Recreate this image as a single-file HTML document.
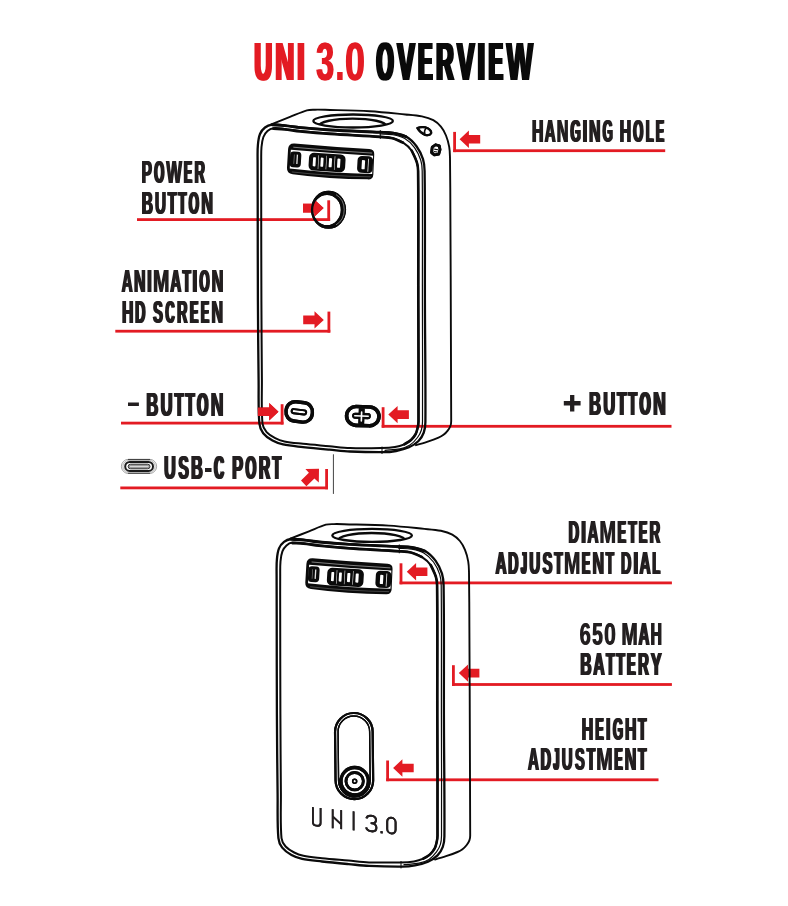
<!DOCTYPE html>
<html><head><meta charset="utf-8"><title>UNI 3.0 Overview</title>
<style>
html,body{margin:0;padding:0;background:#fff;}
body{width:788px;height:906px;overflow:hidden;}
svg{display:block;font-family:"Liberation Sans",sans-serif;font-weight:bold;will-change:transform;}
</style></head><body>
<svg width="788" height="906" viewBox="0 0 788 906">
<g fill="#e31b23"><text transform="matrix(0.4657 0 0 1 253.02 79.50)" font-size="52.91">U</text><text transform="matrix(0.4657 0 0 1 254.37 79.50)" font-size="52.91">U</text><text transform="matrix(0.4657 0 0 1 255.71 79.50)" font-size="52.91">U</text><text transform="matrix(0.4998 0 0 1 274.04 79.50)" font-size="52.91">N</text><text transform="matrix(0.4998 0 0 1 275.25 79.50)" font-size="52.91">N</text><text transform="matrix(0.4998 0 0 1 276.47 79.50)" font-size="52.91">N</text><text transform="matrix(0.4500 0 0 1 296.00 79.50)" font-size="52.91">I</text><text transform="matrix(0.4500 0 0 1 297.67 79.50)" font-size="52.91">I</text><text transform="matrix(0.4500 0 0 1 299.34 79.50)" font-size="52.91">I</text><text transform="matrix(0.6029 0 0 1 315.42 79.50)" font-size="52.91">3</text><text transform="matrix(0.6029 0 0 1 317.06 79.50)" font-size="52.91">3</text><text transform="matrix(0.7365 0 0 1 334.44 79.50)" font-size="52.91">.</text><text transform="matrix(0.6691 0 0 1 344.62 79.50)" font-size="52.91">0</text><text transform="matrix(0.6691 0 0 1 345.76 79.50)" font-size="52.91">0</text></g>
<g fill="#0a0a0a"><text transform="matrix(0.4109 0 0 1 375.11 79.50)" font-size="52.91">O</text><text transform="matrix(0.4109 0 0 1 376.73 79.50)" font-size="52.91">O</text><text transform="matrix(0.4109 0 0 1 378.34 79.50)" font-size="52.91">O</text><text transform="matrix(0.4925 0 0 1 396.05 79.50)" font-size="52.91">V</text><text transform="matrix(0.4925 0 0 1 397.36 79.50)" font-size="52.91">V</text><text transform="matrix(0.4925 0 0 1 398.66 79.50)" font-size="52.91">V</text><text transform="matrix(0.3838 0 0 1 416.72 79.50)" font-size="52.91">E</text><text transform="matrix(0.3838 0 0 1 417.86 79.50)" font-size="52.91">E</text><text transform="matrix(0.3838 0 0 1 419.01 79.50)" font-size="52.91">E</text><text transform="matrix(0.3838 0 0 1 420.16 79.50)" font-size="52.91">E</text><text transform="matrix(0.4571 0 0 1 434.85 79.50)" font-size="52.91">R</text><text transform="matrix(0.4571 0 0 1 436.29 79.50)" font-size="52.91">R</text><text transform="matrix(0.4571 0 0 1 437.74 79.50)" font-size="52.91">R</text><text transform="matrix(0.4925 0 0 1 455.87 79.50)" font-size="52.91">V</text><text transform="matrix(0.4925 0 0 1 457.18 79.50)" font-size="52.91">V</text><text transform="matrix(0.4925 0 0 1 458.49 79.50)" font-size="52.91">V</text><text transform="matrix(0.4500 0 0 1 476.31 79.50)" font-size="52.91">I</text><text transform="matrix(0.4500 0 0 1 478.04 79.50)" font-size="52.91">I</text><text transform="matrix(0.4500 0 0 1 479.78 79.50)" font-size="52.91">I</text><text transform="matrix(0.3838 0 0 1 487.33 79.50)" font-size="52.91">E</text><text transform="matrix(0.3838 0 0 1 488.48 79.50)" font-size="52.91">E</text><text transform="matrix(0.3838 0 0 1 489.62 79.50)" font-size="52.91">E</text><text transform="matrix(0.3838 0 0 1 490.77 79.50)" font-size="52.91">E</text><text transform="matrix(0.5265 0 0 1 505.38 79.50)" font-size="52.91">W</text><text transform="matrix(0.5265 0 0 1 506.56 79.50)" font-size="52.91">W</text><text transform="matrix(0.5265 0 0 1 507.74 79.50)" font-size="52.91">W</text></g>

<defs>
  <clipPath id="holeclip"><ellipse cx="353.1" cy="121" rx="39.8" ry="6.5"/></clipPath>
  
<g id="body" fill="none" stroke="#0a0a0a" stroke-linecap="round" stroke-linejoin="round">
  <path stroke-width="1.9" d="M271.3,124.3 C277.5,121.8 283.8,119.4 290.0,116.9 C295.6,114.7 301.1,112.0 306.9,110.3 C309.5,109.6 312.3,109.8 315.0,109.7 C318.4,109.6 321.7,109.7 325.1,109.8 C340.0,110.2 354.9,110.3 369.8,111.2 C381.7,111.9 393.5,113.3 405.4,114.5 C410.9,115.0 416.5,115.3 421.9,116.4 C425.8,117.2 429.8,118.3 433.3,120.2 C436.2,121.8 438.8,124.1 440.9,126.6 C443.1,129.2 444.7,132.3 446.0,135.5 C447.5,139.2 448.5,143.0 449.2,146.9 C449.9,150.7 449.9,154.5 450.0,158.3 C450.3,177.8 450.3,197.2 450.4,216.7 C450.7,284.8 451.2,352.9 451.2,421.0 C451.2,422.7 451.0,424.4 450.4,426.0 C449.8,427.7 448.8,429.2 447.7,430.6 C446.5,432.2 445.1,433.6 443.5,434.8 C442.0,436.0 440.3,436.9 438.5,437.6 C434.7,439.2 430.9,440.5 427.0,441.8 C423.4,443.0 419.7,444.1 416.0,445.2"/>
  <path stroke-width="2.3" d="M257.9,300.0 C257.7,266.7 257.8,233.3 257.7,200.0 C257.7,186.7 257.6,173.3 257.6,160.0 C257.6,155.0 257.4,150.0 257.9,145.0 C258.2,141.3 258.6,137.5 260.0,134.0 C261.0,131.5 262.8,129.2 265.0,127.5 C267.0,125.9 269.5,124.9 272.0,124.6 C276.2,124.2 280.3,125.0 284.5,125.4 C289.7,125.9 294.8,126.9 300.0,127.4 C310.0,128.4 320.0,129.2 330.0,129.8 C346.7,130.8 363.3,131.3 380.0,132.1 C384.3,132.3 388.7,132.2 392.9,132.9 C397.4,133.7 402.1,134.3 406.0,136.5 C410.2,138.8 413.6,142.4 416.5,146.2 C419.4,150.1 421.5,154.6 423.0,159.2 C424.2,163.0 424.5,167.0 424.6,171.0 C425.2,214.0 424.8,257.0 424.9,300.0 C425.0,340.7 425.7,381.3 425.4,422.0 C425.4,425.5 425.0,429.2 423.8,432.5 C422.7,435.6 420.9,438.6 418.5,441.0 C415.8,443.7 412.5,445.8 409.0,447.3 C404.9,449.1 400.4,450.2 396.0,451.0 C391.8,451.8 387.6,452.2 383.3,452.2 C372.2,452.3 361.1,452.0 350.0,451.5 C343.1,451.2 336.3,450.3 329.5,449.7 C320.7,448.9 311.8,448.1 303.0,447.1 C296.3,446.3 289.6,445.8 283.1,444.4 C279.4,443.6 275.8,442.3 272.5,440.5 C269.1,438.6 265.6,436.3 263.2,433.2 C261.1,430.5 259.7,427.1 259.4,423.7 C258.1,409.2 258.8,394.6 258.6,380.0 C258.3,353.3 258.0,326.7 257.9,300.0 Z"/>
  <path stroke-width="2" d="M261.4,300.0 C261.3,266.7 261.2,233.3 261.2,200.0 C261.2,186.7 261.1,173.3 261.2,160.0 C261.2,155.7 261.1,151.3 261.5,147.0 C261.8,143.6 262.2,140.2 263.4,137.0 C264.3,134.7 265.7,132.6 267.5,131.0 C269.1,129.6 271.2,128.5 273.4,128.2 C277.1,127.7 280.8,128.5 284.5,128.9 C289.7,129.4 294.8,130.5 300.0,131.0 C310.0,132.0 320.0,132.9 330.0,133.6 C346.7,134.8 363.3,135.5 380.0,136.7 C384.3,137.0 388.6,137.2 392.7,138.2 C396.2,139.1 399.8,140.4 402.8,142.4 C406.2,144.6 409.4,147.4 411.7,150.7 C414.1,154.1 415.5,158.1 416.8,162.1 C417.7,165.0 418.1,168.0 418.1,171.0 C418.6,214.0 418.2,257.0 418.3,300.0 C418.4,340.5 418.7,380.9 418.5,421.4 C418.5,423.6 418.1,425.8 417.6,428.0 C417.1,430.0 416.7,432.2 415.7,434.0 C414.5,436.2 412.9,438.3 411.0,440.0 C409.0,441.8 406.7,443.2 404.3,444.3 C401.3,445.6 398.2,446.5 395.0,447.0 C390.5,447.7 385.9,447.9 381.4,448.0 C370.9,448.2 360.5,448.4 350.0,448.0 C343.1,447.8 336.3,446.8 329.5,446.2 C320.7,445.4 311.8,444.7 303.0,443.8 C296.8,443.1 290.5,442.7 284.4,441.4 C281.2,440.7 278.1,439.6 275.2,438.1 C272.1,436.5 268.9,434.7 266.6,432.1 C264.5,429.8 262.8,426.8 262.5,423.7 C261.2,409.2 262.0,394.6 261.9,380.0 C261.7,353.3 261.5,326.7 261.4,300.0 Z"/>
  <path stroke-width="1.2" d="M380.0,134.0 C384.2,134.2 388.4,134.0 392.5,134.7 C396.7,135.5 401.1,136.3 404.8,138.5 C408.6,140.7 411.9,144.0 414.5,147.6 C417.2,151.3 419.3,155.6 420.7,160.0 C421.9,163.5 422.2,167.3 422.2,171.0 C422.7,214.0 422.3,257.0 422.4,300.0 C422.4,340.5 422.8,380.9 422.5,421.4 C422.5,424.3 422.3,427.2 421.4,430.0 C420.6,432.7 419.2,435.3 417.5,437.5 C415.4,440.3 413.0,443.1 410.0,445.0 C407.0,446.9 403.5,448.1 400.0,448.8 C395.1,449.8 390.0,449.8 385.0,450.3"/>
  <path stroke-width="2.6" d="M411.7,150.7 C413.4,154.5 415.5,158.1 416.8,162.1 C417.7,165.0 418.1,168.0 418.1,171.0 C418.6,214.0 418.2,257.0 418.3,300.0 C418.4,340.5 418.7,380.9 418.5,421.4 C418.5,423.6 418.1,425.8 417.6,428.0 C417.1,430.0 416.7,432.2 415.7,434.0 C414.5,436.2 412.9,438.3 411.0,440.0 C409.0,441.8 406.5,442.9 404.3,444.3"/>
  <path stroke-width="2.9" d="M272.0,124.9 C276.2,125.1 280.3,125.2 284.5,125.6 C289.7,126.1 294.8,127.1 300.0,127.6 C310.0,128.6 320.0,129.4 330.0,130.0 C346.7,131.0 363.3,131.5 380.0,132.3 C384.3,132.5 388.7,132.4 392.9,133.1 C397.4,133.9 401.6,135.5 406.0,136.7"/>
  <path stroke-width="2.7" d="M273.4,128.7 C277.1,128.9 280.8,128.9 284.5,129.3 C289.7,129.8 294.8,130.8 300.0,131.3 C310.0,132.3 320.0,133.2 330.0,133.9 C346.7,135.1 363.3,135.7 380.0,136.9 C384.2,137.2 388.6,137.3 392.7,138.3 C396.2,139.2 399.4,141.1 402.8,142.5"/>
  <path stroke-width="1" d="M380.3,130.5 L380.3,138.5 M382,447 L382,453.6"/>
  <ellipse cx="353.1" cy="121" rx="39.8" ry="6.5" stroke-width="2.3"/>
  <g clip-path="url(#holeclip)"><ellipse cx="352.6" cy="126" rx="33.5" ry="7.4" stroke-width="2.4"/></g>
</g>

  
<g id="dial" transform="rotate(3.4 330 162)">
  <path fill="#0a0a0a" d="M293.5,145.6 Q330,146.8 368.5,146.6 Q373.6,146.6 373.7,151.6 L374,171.8 Q374,177 368.7,177.1 Q330,179.2 293.5,176.4 Q287.4,176 287.4,170.2 L287.4,151.6 Q287.4,145.6 293.5,145.6 Z"/>
  <path d="M292.5,149.4 Q330,150.8 371.5,150.6" fill="none" stroke="#c8c8c8" stroke-width="0.6"/>
  <path d="M292.5,174.2 Q330,176.2 371.5,174.4" fill="none" stroke="#999" stroke-width="0.4"/>
  <path d="M290.2,152.2 Q330,153.2 372.6,153.2 L372.8,171.4 Q330,173 290.2,170.8 Z" fill="#fff"/>
  <!-- left partial -->
  <rect x="289.8" y="153.6" width="11.2" height="15.8" rx="3.6" fill="#0a0a0a"/>
  <rect x="296.4" y="156.6" width="1.3" height="9.4" fill="#e0e0e0"/>
  <rect x="293.6" y="156.6" width="0.7" height="9.4" fill="#777"/>
  <!-- centre group -->
  <rect x="308.8" y="153.8" width="36.6" height="17.8" rx="5" fill="#0a0a0a"/>
  <rect x="312.9" y="158.1" width="2.8" height="9.2" rx="0.7" fill="#fff"/>
  <rect x="320.6" y="158.1" width="2.8" height="9.2" rx="0.7" fill="#fff"/>
  <rect x="328.9" y="158.1" width="3" height="9.2" rx="0.7" fill="#fff"/>
  <rect x="337.3" y="158.1" width="3" height="9.2" rx="0.7" fill="#fff"/>
  <rect x="318.1" y="156" width="0.6" height="13.6" fill="#ddd"/>
  <rect x="326" y="156" width="0.6" height="13.6" fill="#ddd"/>
  <rect x="334.4" y="156" width="0.6" height="13.6" fill="#ddd"/>
  <!-- right partial -->
  <rect x="357.4" y="154" width="15.6" height="17" rx="4.4" fill="#0a0a0a"/>
  <rect x="361.8" y="158.1" width="3.2" height="9.2" rx="0.7" fill="#fff"/>
  <rect x="367.9" y="156.4" width="0.8" height="13" fill="#eee"/>
</g>

</defs>

<rect fill="#e31b23" x="453.2" y="131.9" width="2.8" height="20.2"/><rect fill="#e31b23" x="453.2" y="149.3" width="212.0" height="2.8"/>
<polygon fill="#e31b23" points="459.6,139.3 468.9,130.6 468.9,135.0 480.2,135.0 480.2,143.6 468.9,143.6 468.9,148.0"/>
<g fill="#231f20"><text transform="matrix(0.5028 0 0 1 531.14 142.00)" font-size="31.40">H</text><text transform="matrix(0.5028 0 0 1 531.89 142.00)" font-size="31.40">H</text><text transform="matrix(0.5028 0 0 1 532.63 142.00)" font-size="31.40">H</text><text transform="matrix(0.4756 0 0 1 543.90 142.00)" font-size="31.40">A</text><text transform="matrix(0.4756 0 0 1 544.70 142.00)" font-size="31.40">A</text><text transform="matrix(0.4756 0 0 1 545.51 142.00)" font-size="31.40">A</text><text transform="matrix(0.5073 0 0 1 556.14 142.00)" font-size="31.40">N</text><text transform="matrix(0.5073 0 0 1 556.87 142.00)" font-size="31.40">N</text><text transform="matrix(0.5073 0 0 1 557.60 142.00)" font-size="31.40">N</text><text transform="matrix(0.4147 0 0 1 569.60 142.00)" font-size="31.40">G</text><text transform="matrix(0.4147 0 0 1 570.54 142.00)" font-size="31.40">G</text><text transform="matrix(0.4147 0 0 1 571.48 142.00)" font-size="31.40">G</text><text transform="matrix(0.4500 0 0 1 581.96 142.00)" font-size="31.40">I</text><text transform="matrix(0.4500 0 0 1 582.98 142.00)" font-size="31.40">I</text><text transform="matrix(0.4500 0 0 1 584.00 142.00)" font-size="31.40">I</text><text transform="matrix(0.5073 0 0 1 588.21 142.00)" font-size="31.40">N</text><text transform="matrix(0.5073 0 0 1 588.94 142.00)" font-size="31.40">N</text><text transform="matrix(0.5073 0 0 1 589.67 142.00)" font-size="31.40">N</text><text transform="matrix(0.4147 0 0 1 601.67 142.00)" font-size="31.40">G</text><text transform="matrix(0.4147 0 0 1 602.61 142.00)" font-size="31.40">G</text><text transform="matrix(0.4147 0 0 1 603.55 142.00)" font-size="31.40">G</text><text transform="matrix(0.5028 0 0 1 618.92 142.00)" font-size="31.40">H</text><text transform="matrix(0.5028 0 0 1 619.66 142.00)" font-size="31.40">H</text><text transform="matrix(0.5028 0 0 1 620.40 142.00)" font-size="31.40">H</text><text transform="matrix(0.4089 0 0 1 632.32 142.00)" font-size="31.40">O</text><text transform="matrix(0.4089 0 0 1 633.27 142.00)" font-size="31.40">O</text><text transform="matrix(0.4089 0 0 1 634.23 142.00)" font-size="31.40">O</text><text transform="matrix(0.4039 0 0 1 644.92 142.00)" font-size="31.40">L</text><text transform="matrix(0.4039 0 0 1 645.89 142.00)" font-size="31.40">L</text><text transform="matrix(0.4039 0 0 1 646.86 142.00)" font-size="31.40">L</text><text transform="matrix(0.3819 0 0 1 654.94 142.00)" font-size="31.40">E</text><text transform="matrix(0.3819 0 0 1 655.62 142.00)" font-size="31.40">E</text><text transform="matrix(0.3819 0 0 1 656.29 142.00)" font-size="31.40">E</text><text transform="matrix(0.3819 0 0 1 656.97 142.00)" font-size="31.40">E</text></g>
<rect fill="#e31b23" x="327.3" y="200.3" width="2.8" height="20.7"/><rect fill="#e31b23" x="137.0" y="218.2" width="193.1" height="2.8"/>
<polygon fill="#e31b23" points="323.6,208.1 314.3,199.4 314.3,203.8 303.0,203.8 303.0,212.4 314.3,212.4 314.3,216.8"/>
<g fill="#231f20"><text transform="matrix(0.4854 0 0 1 140.98 182.80)" font-size="31.40">P</text><text transform="matrix(0.4854 0 0 1 141.76 182.80)" font-size="31.40">P</text><text transform="matrix(0.4854 0 0 1 142.54 182.80)" font-size="31.40">P</text><text transform="matrix(0.4086 0 0 1 153.25 182.80)" font-size="31.40">O</text><text transform="matrix(0.4086 0 0 1 154.21 182.80)" font-size="31.40">O</text><text transform="matrix(0.4086 0 0 1 155.16 182.80)" font-size="31.40">O</text><text transform="matrix(0.5235 0 0 1 165.70 182.80)" font-size="31.40">W</text><text transform="matrix(0.5235 0 0 1 166.39 182.80)" font-size="31.40">W</text><text transform="matrix(0.5235 0 0 1 167.09 182.80)" font-size="31.40">W</text><text transform="matrix(0.3817 0 0 1 183.09 182.80)" font-size="31.40">E</text><text transform="matrix(0.3817 0 0 1 183.76 182.80)" font-size="31.40">E</text><text transform="matrix(0.3817 0 0 1 184.44 182.80)" font-size="31.40">E</text><text transform="matrix(0.3817 0 0 1 185.12 182.80)" font-size="31.40">E</text><text transform="matrix(0.4545 0 0 1 193.79 182.80)" font-size="31.40">R</text><text transform="matrix(0.4545 0 0 1 194.64 182.80)" font-size="31.40">R</text><text transform="matrix(0.4545 0 0 1 195.49 182.80)" font-size="31.40">R</text></g>
<g fill="#231f20"><text transform="matrix(0.4847 0 0 1 140.98 213.80)" font-size="31.40">B</text><text transform="matrix(0.4847 0 0 1 141.81 213.80)" font-size="31.40">B</text><text transform="matrix(0.4847 0 0 1 142.65 213.80)" font-size="31.40">B</text><text transform="matrix(0.4849 0 0 1 154.19 213.80)" font-size="31.40">U</text><text transform="matrix(0.4849 0 0 1 155.02 213.80)" font-size="31.40">U</text><text transform="matrix(0.4849 0 0 1 155.85 213.80)" font-size="31.40">U</text><text transform="matrix(0.4257 0 0 1 167.10 213.80)" font-size="31.40">T</text><text transform="matrix(0.4257 0 0 1 168.07 213.80)" font-size="31.40">T</text><text transform="matrix(0.4257 0 0 1 169.04 213.80)" font-size="31.40">T</text><text transform="matrix(0.4257 0 0 1 177.23 213.80)" font-size="31.40">T</text><text transform="matrix(0.4257 0 0 1 178.20 213.80)" font-size="31.40">T</text><text transform="matrix(0.4257 0 0 1 179.16 213.80)" font-size="31.40">T</text><text transform="matrix(0.4194 0 0 1 187.79 213.80)" font-size="31.40">O</text><text transform="matrix(0.4194 0 0 1 188.77 213.80)" font-size="31.40">O</text><text transform="matrix(0.4194 0 0 1 189.75 213.80)" font-size="31.40">O</text><text transform="matrix(0.5204 0 0 1 200.50 213.80)" font-size="31.40">N</text><text transform="matrix(0.5204 0 0 1 201.25 213.80)" font-size="31.40">N</text><text transform="matrix(0.5204 0 0 1 202.00 213.80)" font-size="31.40">N</text></g>
<rect fill="#e31b23" x="327.5" y="311.6" width="2.8" height="21.0"/><rect fill="#e31b23" x="115.3" y="329.8" width="215.0" height="2.8"/>
<polygon fill="#e31b23" points="323.8,319.9 314.5,311.2 314.5,315.6 303.2,315.6 303.2,324.2 314.5,324.2 314.5,328.6"/>
<g fill="#231f20"><text transform="matrix(0.4778 0 0 1 120.93 291.70)" font-size="31.40">A</text><text transform="matrix(0.4778 0 0 1 121.73 291.70)" font-size="31.40">A</text><text transform="matrix(0.4778 0 0 1 122.54 291.70)" font-size="31.40">A</text><text transform="matrix(0.5098 0 0 1 133.22 291.70)" font-size="31.40">N</text><text transform="matrix(0.5098 0 0 1 133.96 291.70)" font-size="31.40">N</text><text transform="matrix(0.5098 0 0 1 134.69 291.70)" font-size="31.40">N</text><text transform="matrix(0.4500 0 0 1 146.53 291.70)" font-size="31.40">I</text><text transform="matrix(0.4500 0 0 1 147.56 291.70)" font-size="31.40">I</text><text transform="matrix(0.4500 0 0 1 148.59 291.70)" font-size="31.40">I</text><text transform="matrix(0.6278 0 0 1 152.56 291.70)" font-size="31.40">M</text><text transform="matrix(0.6278 0 0 1 153.50 291.70)" font-size="31.40">M</text><text transform="matrix(0.4778 0 0 1 169.53 291.70)" font-size="31.40">A</text><text transform="matrix(0.4778 0 0 1 170.34 291.70)" font-size="31.40">A</text><text transform="matrix(0.4778 0 0 1 171.15 291.70)" font-size="31.40">A</text><text transform="matrix(0.4170 0 0 1 181.76 291.70)" font-size="31.40">T</text><text transform="matrix(0.4170 0 0 1 182.71 291.70)" font-size="31.40">T</text><text transform="matrix(0.4170 0 0 1 183.65 291.70)" font-size="31.40">T</text><text transform="matrix(0.4500 0 0 1 191.87 291.70)" font-size="31.40">I</text><text transform="matrix(0.4500 0 0 1 192.91 291.70)" font-size="31.40">I</text><text transform="matrix(0.4500 0 0 1 193.94 291.70)" font-size="31.40">I</text><text transform="matrix(0.4108 0 0 1 198.50 291.70)" font-size="31.40">O</text><text transform="matrix(0.4108 0 0 1 199.46 291.70)" font-size="31.40">O</text><text transform="matrix(0.4108 0 0 1 200.42 291.70)" font-size="31.40">O</text><text transform="matrix(0.5098 0 0 1 210.95 291.70)" font-size="31.40">N</text><text transform="matrix(0.5098 0 0 1 211.69 291.70)" font-size="31.40">N</text><text transform="matrix(0.5098 0 0 1 212.42 291.70)" font-size="31.40">N</text></g>
<g fill="#231f20"><text transform="matrix(0.5048 0 0 1 121.14 322.60)" font-size="31.40">H</text><text transform="matrix(0.5048 0 0 1 121.89 322.60)" font-size="31.40">H</text><text transform="matrix(0.5048 0 0 1 122.63 322.60)" font-size="31.40">H</text><text transform="matrix(0.4557 0 0 1 134.35 322.60)" font-size="31.40">D</text><text transform="matrix(0.4557 0 0 1 135.21 322.60)" font-size="31.40">D</text><text transform="matrix(0.4557 0 0 1 136.06 322.60)" font-size="31.40">D</text><text transform="matrix(0.4632 0 0 1 152.32 322.60)" font-size="31.40">S</text><text transform="matrix(0.4632 0 0 1 153.16 322.60)" font-size="31.40">S</text><text transform="matrix(0.4632 0 0 1 154.00 322.60)" font-size="31.40">S</text><text transform="matrix(0.3995 0 0 1 164.53 322.60)" font-size="31.40">C</text><text transform="matrix(0.3995 0 0 1 165.51 322.60)" font-size="31.40">C</text><text transform="matrix(0.3995 0 0 1 166.50 322.60)" font-size="31.40">C</text><text transform="matrix(0.4565 0 0 1 176.37 322.60)" font-size="31.40">R</text><text transform="matrix(0.4565 0 0 1 177.22 322.60)" font-size="31.40">R</text><text transform="matrix(0.4565 0 0 1 178.07 322.60)" font-size="31.40">R</text><text transform="matrix(0.3834 0 0 1 189.12 322.60)" font-size="31.40">E</text><text transform="matrix(0.3834 0 0 1 189.80 322.60)" font-size="31.40">E</text><text transform="matrix(0.3834 0 0 1 190.48 322.60)" font-size="31.40">E</text><text transform="matrix(0.3834 0 0 1 191.16 322.60)" font-size="31.40">E</text><text transform="matrix(0.3834 0 0 1 200.02 322.60)" font-size="31.40">E</text><text transform="matrix(0.3834 0 0 1 200.70 322.60)" font-size="31.40">E</text><text transform="matrix(0.3834 0 0 1 201.38 322.60)" font-size="31.40">E</text><text transform="matrix(0.3834 0 0 1 202.06 322.60)" font-size="31.40">E</text><text transform="matrix(0.5093 0 0 1 210.66 322.60)" font-size="31.40">N</text><text transform="matrix(0.5093 0 0 1 211.39 322.60)" font-size="31.40">N</text><text transform="matrix(0.5093 0 0 1 212.13 322.60)" font-size="31.40">N</text></g>
<rect fill="#e31b23" x="280.7" y="404.2" width="2.8" height="20.3"/><rect fill="#e31b23" x="121.0" y="421.7" width="162.5" height="2.8"/>
<polygon fill="#e31b23" points="278.5,411.8 269.2,403.1 269.2,407.5 257.9,407.5 257.9,416.1 269.2,416.1 269.2,420.5"/>
<rect fill="#231f20" x="128" y="402.5" width="10.9" height="3.5"/>
<g fill="#231f20"><text transform="matrix(0.4964 0 0 1 145.40 415.60)" font-size="33.21">B</text><text transform="matrix(0.4964 0 0 1 146.30 415.60)" font-size="33.21">B</text><text transform="matrix(0.4964 0 0 1 147.20 415.60)" font-size="33.21">B</text><text transform="matrix(0.4967 0 0 1 159.70 415.60)" font-size="33.21">U</text><text transform="matrix(0.4967 0 0 1 160.60 415.60)" font-size="33.21">U</text><text transform="matrix(0.4967 0 0 1 161.51 415.60)" font-size="33.21">U</text><text transform="matrix(0.4360 0 0 1 173.70 415.60)" font-size="33.21">T</text><text transform="matrix(0.4360 0 0 1 174.75 415.60)" font-size="33.21">T</text><text transform="matrix(0.4360 0 0 1 175.79 415.60)" font-size="33.21">T</text><text transform="matrix(0.4360 0 0 1 184.67 415.60)" font-size="33.21">T</text><text transform="matrix(0.4360 0 0 1 185.72 415.60)" font-size="33.21">T</text><text transform="matrix(0.4360 0 0 1 186.76 415.60)" font-size="33.21">T</text><text transform="matrix(0.4295 0 0 1 196.11 415.60)" font-size="33.21">O</text><text transform="matrix(0.4295 0 0 1 197.17 415.60)" font-size="33.21">O</text><text transform="matrix(0.4295 0 0 1 198.23 415.60)" font-size="33.21">O</text><text transform="matrix(0.5330 0 0 1 209.88 415.60)" font-size="33.21">N</text><text transform="matrix(0.5330 0 0 1 210.69 415.60)" font-size="33.21">N</text><text transform="matrix(0.5330 0 0 1 211.51 415.60)" font-size="33.21">N</text></g>
<rect fill="#e31b23" x="381.7" y="407.2" width="2.8" height="20.5"/><rect fill="#e31b23" x="381.7" y="424.9" width="289.8" height="2.8"/>
<polygon fill="#e31b23" points="388.3,414.6 397.6,405.9 397.6,410.3 408.9,410.3 408.9,418.9 397.6,418.9 397.6,423.3"/>
<path fill="#231f20" d="M563.8,401.1 h6.25 v-6.2 h4.3 v6.2 h6.25 v4.3 h-6.25 v6.2 h-4.3 v-6.2 h-6.25 z"/>
<g fill="#231f20"><text transform="matrix(0.4932 0 0 1 588.20 415.20)" font-size="33.21">B</text><text transform="matrix(0.4932 0 0 1 589.10 415.20)" font-size="33.21">B</text><text transform="matrix(0.4932 0 0 1 590.00 415.20)" font-size="33.21">B</text><text transform="matrix(0.4934 0 0 1 602.42 415.20)" font-size="33.21">U</text><text transform="matrix(0.4934 0 0 1 603.31 415.20)" font-size="33.21">U</text><text transform="matrix(0.4934 0 0 1 604.21 415.20)" font-size="33.21">U</text><text transform="matrix(0.4332 0 0 1 616.32 415.20)" font-size="33.21">T</text><text transform="matrix(0.4332 0 0 1 617.36 415.20)" font-size="33.21">T</text><text transform="matrix(0.4332 0 0 1 618.40 415.20)" font-size="33.21">T</text><text transform="matrix(0.4332 0 0 1 627.22 415.20)" font-size="33.21">T</text><text transform="matrix(0.4332 0 0 1 628.26 415.20)" font-size="33.21">T</text><text transform="matrix(0.4332 0 0 1 629.30 415.20)" font-size="33.21">T</text><text transform="matrix(0.4267 0 0 1 638.58 415.20)" font-size="33.21">O</text><text transform="matrix(0.4267 0 0 1 639.64 415.20)" font-size="33.21">O</text><text transform="matrix(0.4267 0 0 1 640.69 415.20)" font-size="33.21">O</text><text transform="matrix(0.5295 0 0 1 652.27 415.20)" font-size="33.21">N</text><text transform="matrix(0.5295 0 0 1 653.08 415.20)" font-size="33.21">N</text><text transform="matrix(0.5295 0 0 1 653.88 415.20)" font-size="33.21">N</text></g>
<rect fill="#e31b23" x="325.2" y="469.0" width="2.8" height="20.3"/><rect fill="#e31b23" x="120.3" y="486.5" width="207.7" height="2.8"/>
<polygon fill="#e31b23" points="319,468.8 305.4,469 308.9,472.7 301,480.6 306.4,486.3 314.4,478.5 318.8,482.4"/>
<rect x="332.9" y="454.3" width="1.1" height="39.6" fill="#555"/>
<g fill="#231f20"><text transform="matrix(0.4832 0 0 1 163.23 478.80)" font-size="33.28">U</text><text transform="matrix(0.4832 0 0 1 164.11 478.80)" font-size="33.28">U</text><text transform="matrix(0.4832 0 0 1 164.99 478.80)" font-size="33.28">U</text><text transform="matrix(0.4716 0 0 1 177.45 478.80)" font-size="33.28">S</text><text transform="matrix(0.4716 0 0 1 178.36 478.80)" font-size="33.28">S</text><text transform="matrix(0.4716 0 0 1 179.26 478.80)" font-size="33.28">S</text><text transform="matrix(0.4830 0 0 1 190.32 478.80)" font-size="33.28">B</text><text transform="matrix(0.4830 0 0 1 191.20 478.80)" font-size="33.28">B</text><text transform="matrix(0.4830 0 0 1 192.08 478.80)" font-size="33.28">B</text><text transform="matrix(0.7760 0 0 1 204.02 478.80)" font-size="33.28">-</text><text transform="matrix(0.4068 0 0 1 213.10 478.80)" font-size="33.28">C</text><text transform="matrix(0.4068 0 0 1 214.17 478.80)" font-size="33.28">C</text><text transform="matrix(0.4068 0 0 1 215.23 478.80)" font-size="33.28">C</text><text transform="matrix(0.4965 0 0 1 231.23 478.80)" font-size="33.28">P</text><text transform="matrix(0.4965 0 0 1 232.07 478.80)" font-size="33.28">P</text><text transform="matrix(0.4965 0 0 1 232.92 478.80)" font-size="33.28">P</text><text transform="matrix(0.4179 0 0 1 244.53 478.80)" font-size="33.28">O</text><text transform="matrix(0.4179 0 0 1 245.57 478.80)" font-size="33.28">O</text><text transform="matrix(0.4179 0 0 1 246.60 478.80)" font-size="33.28">O</text><text transform="matrix(0.4648 0 0 1 258.08 478.80)" font-size="33.28">R</text><text transform="matrix(0.4648 0 0 1 259.00 478.80)" font-size="33.28">R</text><text transform="matrix(0.4648 0 0 1 259.93 478.80)" font-size="33.28">R</text><text transform="matrix(0.4242 0 0 1 271.49 478.80)" font-size="33.28">T</text><text transform="matrix(0.4242 0 0 1 272.51 478.80)" font-size="33.28">T</text><text transform="matrix(0.4242 0 0 1 273.53 478.80)" font-size="33.28">T</text></g>
<g fill="none"><rect x="121.4" y="459.3" width="35.2" height="14.2" rx="7.1" stroke="#777" stroke-width="0.7"/><path d="M128,459.5 H150 M128,473.3 H150" stroke="#444" stroke-width="1.1"/><rect x="122.9" y="460.5" width="32.2" height="11.8" rx="5.9" stroke="#888" stroke-width="0.6"/><rect x="125.2" y="461.9" width="27.8" height="9" rx="4.5" stroke="#1a1a1a" stroke-width="2"/><rect x="128.2" y="464.2" width="21.8" height="4.6" rx="2.3" fill="#9a9a9a" stroke="#333" stroke-width="1"/><path d="M130,466.5 H148.4" stroke="#e8e8e8" stroke-width="0.8"/></g>
<rect fill="#e31b23" x="399.6" y="563.3" width="2.8" height="21.0"/><rect fill="#e31b23" x="399.6" y="581.5" width="272.3" height="2.8"/>
<polygon fill="#e31b23" points="406.8,571.8 416.1,563.1 416.1,567.5 427.4,567.5 427.4,576.1 416.1,576.1 416.1,580.5"/>
<g fill="#231f20"><text transform="matrix(0.4637 0 0 1 567.73 542.60)" font-size="31.40">D</text><text transform="matrix(0.4637 0 0 1 568.60 542.60)" font-size="31.40">D</text><text transform="matrix(0.4637 0 0 1 569.47 542.60)" font-size="31.40">D</text><text transform="matrix(0.4500 0 0 1 580.57 542.60)" font-size="31.40">I</text><text transform="matrix(0.4500 0 0 1 581.64 542.60)" font-size="31.40">I</text><text transform="matrix(0.4500 0 0 1 582.70 542.60)" font-size="31.40">I</text><text transform="matrix(0.4858 0 0 1 586.64 542.60)" font-size="31.40">A</text><text transform="matrix(0.4858 0 0 1 587.46 542.60)" font-size="31.40">A</text><text transform="matrix(0.4858 0 0 1 588.28 542.60)" font-size="31.40">A</text><text transform="matrix(0.6383 0 0 1 598.88 542.60)" font-size="31.40">M</text><text transform="matrix(0.6383 0 0 1 599.84 542.60)" font-size="31.40">M</text><text transform="matrix(0.3901 0 0 1 616.71 542.60)" font-size="31.40">E</text><text transform="matrix(0.3901 0 0 1 617.40 542.60)" font-size="31.40">E</text><text transform="matrix(0.3901 0 0 1 618.10 542.60)" font-size="31.40">E</text><text transform="matrix(0.3901 0 0 1 618.79 542.60)" font-size="31.40">E</text><text transform="matrix(0.4239 0 0 1 627.47 542.60)" font-size="31.40">T</text><text transform="matrix(0.4239 0 0 1 628.43 542.60)" font-size="31.40">T</text><text transform="matrix(0.4239 0 0 1 629.39 542.60)" font-size="31.40">T</text><text transform="matrix(0.3901 0 0 1 637.89 542.60)" font-size="31.40">E</text><text transform="matrix(0.3901 0 0 1 638.58 542.60)" font-size="31.40">E</text><text transform="matrix(0.3901 0 0 1 639.27 542.60)" font-size="31.40">E</text><text transform="matrix(0.3901 0 0 1 639.97 542.60)" font-size="31.40">E</text><text transform="matrix(0.4645 0 0 1 648.83 542.60)" font-size="31.40">R</text><text transform="matrix(0.4645 0 0 1 649.70 542.60)" font-size="31.40">R</text><text transform="matrix(0.4645 0 0 1 650.57 542.60)" font-size="31.40">R</text></g>
<g fill="#231f20"><text transform="matrix(0.4804 0 0 1 494.82 573.80)" font-size="31.40">A</text><text transform="matrix(0.4804 0 0 1 495.64 573.80)" font-size="31.40">A</text><text transform="matrix(0.4804 0 0 1 496.45 573.80)" font-size="31.40">A</text><text transform="matrix(0.4586 0 0 1 507.30 573.80)" font-size="31.40">D</text><text transform="matrix(0.4586 0 0 1 508.16 573.80)" font-size="31.40">D</text><text transform="matrix(0.4586 0 0 1 509.02 573.80)" font-size="31.40">D</text><text transform="matrix(0.3000 0 0 1 520.02 573.80)" font-size="31.40">J</text><text transform="matrix(0.3000 0 0 1 520.64 573.80)" font-size="31.40">J</text><text transform="matrix(0.3000 0 0 1 521.26 573.80)" font-size="31.40">J</text><text transform="matrix(0.3000 0 0 1 521.87 573.80)" font-size="31.40">J</text><text transform="matrix(0.3000 0 0 1 522.49 573.80)" font-size="31.40">J</text><text transform="matrix(0.4776 0 0 1 528.50 573.80)" font-size="31.40">U</text><text transform="matrix(0.4776 0 0 1 529.32 573.80)" font-size="31.40">U</text><text transform="matrix(0.4776 0 0 1 530.14 573.80)" font-size="31.40">U</text><text transform="matrix(0.4661 0 0 1 541.75 573.80)" font-size="31.40">S</text><text transform="matrix(0.4661 0 0 1 542.60 573.80)" font-size="31.40">S</text><text transform="matrix(0.4661 0 0 1 543.44 573.80)" font-size="31.40">S</text><text transform="matrix(0.4193 0 0 1 553.61 573.80)" font-size="31.40">T</text><text transform="matrix(0.4193 0 0 1 554.56 573.80)" font-size="31.40">T</text><text transform="matrix(0.4193 0 0 1 555.51 573.80)" font-size="31.40">T</text><text transform="matrix(0.6313 0 0 1 563.40 573.80)" font-size="31.40">M</text><text transform="matrix(0.6313 0 0 1 564.35 573.80)" font-size="31.40">M</text><text transform="matrix(0.3858 0 0 1 581.03 573.80)" font-size="31.40">E</text><text transform="matrix(0.3858 0 0 1 581.72 573.80)" font-size="31.40">E</text><text transform="matrix(0.3858 0 0 1 582.40 573.80)" font-size="31.40">E</text><text transform="matrix(0.3858 0 0 1 583.09 573.80)" font-size="31.40">E</text><text transform="matrix(0.5125 0 0 1 591.74 573.80)" font-size="31.40">N</text><text transform="matrix(0.5125 0 0 1 592.48 573.80)" font-size="31.40">N</text><text transform="matrix(0.5125 0 0 1 593.22 573.80)" font-size="31.40">N</text><text transform="matrix(0.4193 0 0 1 604.93 573.80)" font-size="31.40">T</text><text transform="matrix(0.4193 0 0 1 605.88 573.80)" font-size="31.40">T</text><text transform="matrix(0.4193 0 0 1 606.83 573.80)" font-size="31.40">T</text><text transform="matrix(0.4586 0 0 1 620.13 573.80)" font-size="31.40">D</text><text transform="matrix(0.4586 0 0 1 621.00 573.80)" font-size="31.40">D</text><text transform="matrix(0.4586 0 0 1 621.86 573.80)" font-size="31.40">D</text><text transform="matrix(0.4500 0 0 1 632.83 573.80)" font-size="31.40">I</text><text transform="matrix(0.4500 0 0 1 633.87 573.80)" font-size="31.40">I</text><text transform="matrix(0.4500 0 0 1 634.91 573.80)" font-size="31.40">I</text><text transform="matrix(0.4804 0 0 1 638.84 573.80)" font-size="31.40">A</text><text transform="matrix(0.4804 0 0 1 639.65 573.80)" font-size="31.40">A</text><text transform="matrix(0.4804 0 0 1 640.46 573.80)" font-size="31.40">A</text><text transform="matrix(0.4081 0 0 1 651.42 573.80)" font-size="31.40">L</text><text transform="matrix(0.4081 0 0 1 652.39 573.80)" font-size="31.40">L</text><text transform="matrix(0.4081 0 0 1 653.37 573.80)" font-size="31.40">L</text></g>
<rect fill="#e31b23" x="452.0" y="665.2" width="2.8" height="20.7"/><rect fill="#e31b23" x="452.0" y="683.1" width="219.9" height="2.8"/>
<polygon fill="#e31b23" points="458.8,673.1 468.1,664.4 468.1,668.8 479.4,668.8 479.4,677.4 468.1,677.4 468.1,681.8"/>
<g fill="#231f20"><text transform="matrix(0.6417 0 0 1 579.16 644.50)" font-size="31.40">6</text><text transform="matrix(0.6417 0 0 1 579.98 644.50)" font-size="31.40">6</text><text transform="matrix(0.6018 0 0 1 591.76 644.50)" font-size="31.40">5</text><text transform="matrix(0.6018 0 0 1 592.76 644.50)" font-size="31.40">5</text><text transform="matrix(0.6719 0 0 1 603.80 644.50)" font-size="31.40">0</text><text transform="matrix(0.6719 0 0 1 604.48 644.50)" font-size="31.40">0</text><text transform="matrix(0.6182 0 0 1 621.07 644.50)" font-size="31.40">M</text><text transform="matrix(0.6182 0 0 1 622.00 644.50)" font-size="31.40">M</text><text transform="matrix(0.4705 0 0 1 637.79 644.50)" font-size="31.40">A</text><text transform="matrix(0.4705 0 0 1 638.59 644.50)" font-size="31.40">A</text><text transform="matrix(0.4705 0 0 1 639.38 644.50)" font-size="31.40">A</text><text transform="matrix(0.4974 0 0 1 649.91 644.50)" font-size="31.40">H</text><text transform="matrix(0.4974 0 0 1 650.64 644.50)" font-size="31.40">H</text><text transform="matrix(0.4974 0 0 1 651.37 644.50)" font-size="31.40">H</text></g>
<g fill="#231f20"><text transform="matrix(0.4925 0 0 1 579.57 675.00)" font-size="31.40">B</text><text transform="matrix(0.4925 0 0 1 580.41 675.00)" font-size="31.40">B</text><text transform="matrix(0.4925 0 0 1 581.26 675.00)" font-size="31.40">B</text><text transform="matrix(0.4957 0 0 1 592.50 675.00)" font-size="31.40">A</text><text transform="matrix(0.4957 0 0 1 593.33 675.00)" font-size="31.40">A</text><text transform="matrix(0.4957 0 0 1 594.17 675.00)" font-size="31.40">A</text><text transform="matrix(0.4326 0 0 1 605.18 675.00)" font-size="31.40">T</text><text transform="matrix(0.4326 0 0 1 606.16 675.00)" font-size="31.40">T</text><text transform="matrix(0.4326 0 0 1 607.14 675.00)" font-size="31.40">T</text><text transform="matrix(0.4326 0 0 1 615.47 675.00)" font-size="31.40">T</text><text transform="matrix(0.4326 0 0 1 616.45 675.00)" font-size="31.40">T</text><text transform="matrix(0.4326 0 0 1 617.43 675.00)" font-size="31.40">T</text><text transform="matrix(0.3981 0 0 1 626.11 675.00)" font-size="31.40">E</text><text transform="matrix(0.3981 0 0 1 626.81 675.00)" font-size="31.40">E</text><text transform="matrix(0.3981 0 0 1 627.52 675.00)" font-size="31.40">E</text><text transform="matrix(0.3981 0 0 1 628.23 675.00)" font-size="31.40">E</text><text transform="matrix(0.4740 0 0 1 637.27 675.00)" font-size="31.40">R</text><text transform="matrix(0.4740 0 0 1 638.16 675.00)" font-size="31.40">R</text><text transform="matrix(0.4740 0 0 1 639.04 675.00)" font-size="31.40">R</text><text transform="matrix(0.5117 0 0 1 650.04 675.00)" font-size="31.40">Y</text><text transform="matrix(0.5117 0 0 1 650.84 675.00)" font-size="31.40">Y</text><text transform="matrix(0.5117 0 0 1 651.64 675.00)" font-size="31.40">Y</text></g>
<rect fill="#e31b23" x="386.2" y="760.5" width="2.8" height="20.7"/><rect fill="#e31b23" x="386.2" y="778.4" width="272.3" height="2.8"/>
<polygon fill="#e31b23" points="393.1,768.0 402.4,759.3 402.4,763.7 413.7,763.7 413.7,772.3 402.4,772.3 402.4,776.7"/>
<g fill="#231f20"><text transform="matrix(0.5067 0 0 1 581.04 739.70)" font-size="31.40">H</text><text transform="matrix(0.5067 0 0 1 581.78 739.70)" font-size="31.40">H</text><text transform="matrix(0.5067 0 0 1 582.53 739.70)" font-size="31.40">H</text><text transform="matrix(0.3849 0 0 1 594.45 739.70)" font-size="31.40">E</text><text transform="matrix(0.3849 0 0 1 595.13 739.70)" font-size="31.40">E</text><text transform="matrix(0.3849 0 0 1 595.82 739.70)" font-size="31.40">E</text><text transform="matrix(0.3849 0 0 1 596.50 739.70)" font-size="31.40">E</text><text transform="matrix(0.4500 0 0 1 605.26 739.70)" font-size="31.40">I</text><text transform="matrix(0.4500 0 0 1 606.30 739.70)" font-size="31.40">I</text><text transform="matrix(0.4500 0 0 1 607.34 739.70)" font-size="31.40">I</text><text transform="matrix(0.4180 0 0 1 611.90 739.70)" font-size="31.40">G</text><text transform="matrix(0.4180 0 0 1 612.84 739.70)" font-size="31.40">G</text><text transform="matrix(0.4180 0 0 1 613.79 739.70)" font-size="31.40">G</text><text transform="matrix(0.5067 0 0 1 624.24 739.70)" font-size="31.40">H</text><text transform="matrix(0.5067 0 0 1 624.99 739.70)" font-size="31.40">H</text><text transform="matrix(0.5067 0 0 1 625.74 739.70)" font-size="31.40">H</text><text transform="matrix(0.4183 0 0 1 637.32 739.70)" font-size="31.40">T</text><text transform="matrix(0.4183 0 0 1 638.27 739.70)" font-size="31.40">T</text><text transform="matrix(0.4183 0 0 1 639.22 739.70)" font-size="31.40">T</text></g>
<g fill="#231f20"><text transform="matrix(0.4803 0 0 1 527.22 770.40)" font-size="31.40">A</text><text transform="matrix(0.4803 0 0 1 528.04 770.40)" font-size="31.40">A</text><text transform="matrix(0.4803 0 0 1 528.85 770.40)" font-size="31.40">A</text><text transform="matrix(0.4585 0 0 1 539.70 770.40)" font-size="31.40">D</text><text transform="matrix(0.4585 0 0 1 540.56 770.40)" font-size="31.40">D</text><text transform="matrix(0.4585 0 0 1 541.42 770.40)" font-size="31.40">D</text><text transform="matrix(0.3000 0 0 1 552.42 770.40)" font-size="31.40">J</text><text transform="matrix(0.3000 0 0 1 553.03 770.40)" font-size="31.40">J</text><text transform="matrix(0.3000 0 0 1 553.65 770.40)" font-size="31.40">J</text><text transform="matrix(0.3000 0 0 1 554.27 770.40)" font-size="31.40">J</text><text transform="matrix(0.3000 0 0 1 554.88 770.40)" font-size="31.40">J</text><text transform="matrix(0.4775 0 0 1 560.89 770.40)" font-size="31.40">U</text><text transform="matrix(0.4775 0 0 1 561.71 770.40)" font-size="31.40">U</text><text transform="matrix(0.4775 0 0 1 562.53 770.40)" font-size="31.40">U</text><text transform="matrix(0.4660 0 0 1 574.14 770.40)" font-size="31.40">S</text><text transform="matrix(0.4660 0 0 1 574.99 770.40)" font-size="31.40">S</text><text transform="matrix(0.4660 0 0 1 575.83 770.40)" font-size="31.40">S</text><text transform="matrix(0.4192 0 0 1 586.00 770.40)" font-size="31.40">T</text><text transform="matrix(0.4192 0 0 1 586.95 770.40)" font-size="31.40">T</text><text transform="matrix(0.4192 0 0 1 587.90 770.40)" font-size="31.40">T</text><text transform="matrix(0.6311 0 0 1 595.79 770.40)" font-size="31.40">M</text><text transform="matrix(0.6311 0 0 1 596.73 770.40)" font-size="31.40">M</text><text transform="matrix(0.3857 0 0 1 613.42 770.40)" font-size="31.40">E</text><text transform="matrix(0.3857 0 0 1 614.10 770.40)" font-size="31.40">E</text><text transform="matrix(0.3857 0 0 1 614.78 770.40)" font-size="31.40">E</text><text transform="matrix(0.3857 0 0 1 615.47 770.40)" font-size="31.40">E</text><text transform="matrix(0.5124 0 0 1 624.12 770.40)" font-size="31.40">N</text><text transform="matrix(0.5124 0 0 1 624.86 770.40)" font-size="31.40">N</text><text transform="matrix(0.5124 0 0 1 625.60 770.40)" font-size="31.40">N</text><text transform="matrix(0.4192 0 0 1 637.30 770.40)" font-size="31.40">T</text><text transform="matrix(0.4192 0 0 1 638.25 770.40)" font-size="31.40">T</text><text transform="matrix(0.4192 0 0 1 639.20 770.40)" font-size="31.40">T</text></g>
<use href="#body"/>
<use href="#dial"/>
<use href="#body" transform="translate(19,414.4)"/>
<use href="#dial" transform="translate(18.3,414.8)"/>
<g transform="translate(424.4,131) rotate(14)" stroke="#0a0a0a" stroke-linejoin="round"><path fill="#fff" stroke-width="2.3" d="M-7.4,-1.2 Q-2.5,-4.4 2.4,-3.5 Q7,-2.3 7,0.7 Q6.4,3.6 1.8,3.5 Q-3.2,2.9 -7.4,-1.2 Z"/><path fill="none" stroke-width="1.5" d="M0.9,-3 Q-0.6,0 1.1,3"/></g>
<g transform="translate(435.9,150) rotate(10)" stroke="#0a0a0a"><path fill="#fff" stroke-width="3" stroke-linejoin="round" d="M-1.2,-5 L2.6,-4.6 L3.9,-1 L3.4,3.6 L-0.6,5 L-3.7,3.2 L-4,-2.2 Z"/><path fill="none" stroke-width="1.1" d="M-1.8,-0.6 H2 M-1.8,1.8 H1.6"/></g>
<path fill="#0a0a0a" fill-rule="evenodd" d="M310.9,209.75 a17.6,19.1 0 1 0 35.2,0 a17.6,19.1 0 1 0 -35.2,0 Z M313.2,210 a13.8,15.1 0 1 0 27.6,0 a13.8,15.1 0 1 0 -27.6,0 Z"/><path d="M336,194.6 A15.6,17.2 0 0 1 336,224.9" fill="none" stroke="#ddd" stroke-width="0.5"/>
<g fill="none" stroke="#0a0a0a" transform="rotate(7 299 412)"><rect x="286" y="402.2" width="26.4" height="19.4" rx="9" stroke-width="3.4"/><rect x="291.6" y="409.7" width="14.6" height="4.2" rx="2.1" stroke-width="1.9"/></g>
<g transform="rotate(2 363 416)"><rect x="346.6" y="406.7" width="32.4" height="18.9" rx="9.45" fill="none" stroke="#0a0a0a" stroke-width="3.6"/><rect x="352.1" y="412.9" width="18.7" height="6.2" rx="3.1" fill="#0a0a0a"/><rect x="358.6" y="408.5" width="5.8" height="15.4" fill="#0a0a0a"/><rect x="354" y="415.2" width="15" height="1.6" rx="0.8" fill="#fff"/><rect x="360.7" y="411.2" width="1.6" height="10.6" rx="0.8" fill="#fff"/></g>
<g fill="none" stroke="#0a0a0a" transform="rotate(-0.6 354 756)"><rect x="335.3" y="713" width="37.6" height="86.2" rx="18.8" stroke-width="2.2"/><rect x="338.3" y="716" width="31.6" height="80.2" rx="15.8" stroke-width="1.4"/><circle cx="354.4" cy="781.2" r="13.7" stroke-width="3.3"/><path d="M368.7,786.4 A15.2,15.2 0 0 1 339.4,778.6" stroke-width="2"/><circle cx="354.4" cy="781.2" r="8.7" stroke-width="2.8"/><circle cx="354.4" cy="781.2" r="2" stroke-width="1.5"/></g>
<g fill="none" stroke="#231f20" stroke-linecap="butt" stroke-linejoin="round" transform="translate(355,820) skewY(6) translate(-355,-820)"><g stroke-width="1.8"><path d="M312.9,811.6 V826.5 Q312.9,829.7 316,829.7 H317.5 Q320.6,829.7 320.6,826.5 V811.6"/><path d="M332.7,830.6 V811.6 M341.2,811.6 V830.6 M332.7,818.6 L341.2,825.8"/><path d="M353.6,811.6 V830.6"/></g><g stroke-width="2"><path d="M366.4,817.2 C366.9,815 368.7,814 371.2,814 C374.3,814 376,815.6 376,817.8 C376,820.3 374.2,821.5 371.4,821.5 C374.6,821.5 376.4,823 376.4,825.5 C376.4,828.1 374.5,829.6 371.3,829.6 C368.5,829.6 366.7,828.5 366.2,826.2"/><rect x="387.2" y="814" width="8.4" height="15.6" rx="4.2"/></g><rect x="380.5" y="828.3" width="2.2" height="2.2" fill="#231f20" stroke="none"/></g>
<polygon fill="#e31b23" points="278.5,411.8 269.2,403.1 269.2,407.5 257.9,407.5 257.9,416.1 269.2,416.1 269.2,420.5"/>
<polygon fill="#e31b23" points="323.6,208.1 314.3,199.4 314.3,203.8 303.0,203.8 303.0,212.4 314.3,212.4 314.3,216.8"/>
<g transform="translate(424.4,131) rotate(14)" stroke="#0a0a0a" stroke-linejoin="round"><path fill="#fff" stroke-width="2.3" d="M-7.4,-1.2 Q-2.5,-4.4 2.4,-3.5 Q7,-2.3 7,0.7 Q6.4,3.6 1.8,3.5 Q-3.2,2.9 -7.4,-1.2 Z"/><path fill="none" stroke-width="1.5" d="M0.9,-3 Q-0.6,0 1.1,3"/></g>
<g transform="translate(435.9,150) rotate(10)" stroke="#0a0a0a"><path fill="#fff" stroke-width="3" stroke-linejoin="round" d="M-1.2,-5 L2.6,-4.6 L3.9,-1 L3.4,3.6 L-0.6,5 L-3.7,3.2 L-4,-2.2 Z"/><path fill="none" stroke-width="1.1" d="M-1.8,-0.6 H2 M-1.8,1.8 H1.6"/></g>
<path fill="#0a0a0a" fill-rule="evenodd" d="M310.9,209.75 a17.6,19.1 0 1 0 35.2,0 a17.6,19.1 0 1 0 -35.2,0 Z M313.2,210 a13.8,15.1 0 1 0 27.6,0 a13.8,15.1 0 1 0 -27.6,0 Z"/><path d="M336,194.6 A15.6,17.2 0 0 1 336,224.9" fill="none" stroke="#ddd" stroke-width="0.5"/>
<g fill="none" stroke="#0a0a0a" transform="rotate(7 299 412)"><rect x="286" y="402.2" width="26.4" height="19.4" rx="9" stroke-width="3.4"/><rect x="291.6" y="409.7" width="14.6" height="4.2" rx="2.1" stroke-width="1.9"/></g>
<g transform="rotate(2 363 416)"><rect x="346.6" y="406.7" width="32.4" height="18.9" rx="9.45" fill="none" stroke="#0a0a0a" stroke-width="3.6"/><rect x="352.1" y="412.9" width="18.7" height="6.2" rx="3.1" fill="#0a0a0a"/><rect x="358.6" y="408.5" width="5.8" height="15.4" fill="#0a0a0a"/><rect x="354" y="415.2" width="15" height="1.6" rx="0.8" fill="#fff"/><rect x="360.7" y="411.2" width="1.6" height="10.6" rx="0.8" fill="#fff"/></g>
<g fill="none" stroke="#0a0a0a" transform="rotate(-0.6 354 756)"><rect x="335.3" y="713" width="37.6" height="86.2" rx="18.8" stroke-width="2.2"/><rect x="338.3" y="716" width="31.6" height="80.2" rx="15.8" stroke-width="1.4"/><circle cx="354.4" cy="781.2" r="13.7" stroke-width="3.3"/><path d="M368.7,786.4 A15.2,15.2 0 0 1 339.4,778.6" stroke-width="2"/><circle cx="354.4" cy="781.2" r="8.7" stroke-width="2.8"/><circle cx="354.4" cy="781.2" r="2" stroke-width="1.5"/></g>
<g fill="none" stroke="#231f20" stroke-linecap="butt" stroke-linejoin="round" transform="translate(355,820) skewY(6) translate(-355,-820)"><g stroke-width="1.8"><path d="M312.9,811.6 V826.5 Q312.9,829.7 316,829.7 H317.5 Q320.6,829.7 320.6,826.5 V811.6"/><path d="M332.7,830.6 V811.6 M341.2,811.6 V830.6 M332.7,818.6 L341.2,825.8"/><path d="M353.6,811.6 V830.6"/></g><g stroke-width="2"><path d="M366.4,817.2 C366.9,815 368.7,814 371.2,814 C374.3,814 376,815.6 376,817.8 C376,820.3 374.2,821.5 371.4,821.5 C374.6,821.5 376.4,823 376.4,825.5 C376.4,828.1 374.5,829.6 371.3,829.6 C368.5,829.6 366.7,828.5 366.2,826.2"/><rect x="387.2" y="814" width="8.4" height="15.6" rx="4.2"/></g><rect x="380.5" y="828.3" width="2.2" height="2.2" fill="#231f20" stroke="none"/></g>
</svg>
</body></html>
